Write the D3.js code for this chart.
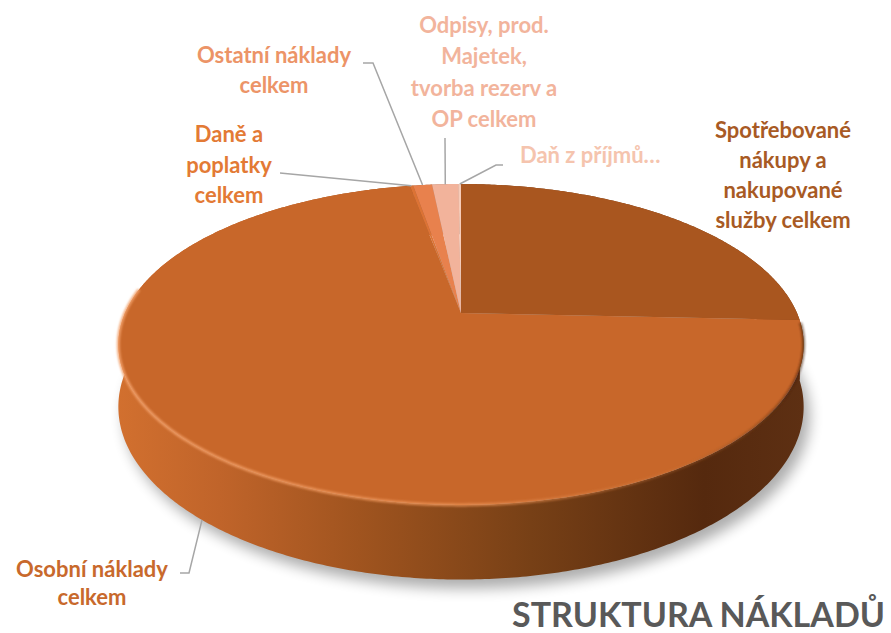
<!DOCTYPE html>
<html>
<head>
<meta charset="utf-8">
<script src="https://cdn.jsdelivr.net/npm/d3@7"></script>
<style>
  body { margin: 0; background: #fff; }
  svg { display: block; }
  text { font-family: Lato, "Open Sans", sans-serif; font-weight: 700; }
</style>
</head>
<body>
<div id="chart"></div>
<script>
// Slice data, in drawing order (clockwise from 12 o'clock)
const categories = [
  "Spotřebované nákupy a nakupované služby celkem",
  "Osobní náklady celkem",
  "Daně a poplatky celkem",
  "Ostatní náklady celkem",
  "Odpisy, prod. Majetek, tvorba rezerv a OP celkem",
  "Daň z příjmů…"
];
const values = [25.72, 71.36, 0.19, 1.08, 1.50, 0.14];
const sliceColors = ["#a9561f", "#c8672a", "#dc7334", "#e8814d", "#f2b39b", "#f6cbb8"];
const labelColors = ["#a85a24", "#c8692c", "#e37a35", "#ec9467", "#f2b49c", "#f5c4ae"];
const labelLines = [
  ["Spotřebované", "nákupy a", "nakupované", "služby celkem"],
  ["Osobní náklady", "celkem"],
  ["Daně a", "poplatky", "celkem"],
  ["Ostatní náklady", "celkem"],
  ["Odpisy, prod.", "Majetek,", "tvorba rezerv a", "OP celkem"],
  ["Daň z příjmů…"]
];
const title = "STRUKTURA NÁKLADŮ";

function chart() {
  const width = 891;
  const height = 633;

  // perspective pie geometry
  const cx = 461, cy = 313, R = 336, Ry = 154.3, k = 0.196, depth = 60;

  // map an angle (clockwise from the back) on the disc to the screen
  const proj = (phi, down) => {
    const u = Math.sin(phi), v = -Math.cos(phi), w = 1 - k * v;
    return [cx + R * u / w, cy + Ry * v / w + (down ? depth / w : 0)];
  };
  const arcPts = (a0, a1, down) => {
    const n = Math.max(2, Math.ceil((a1 - a0) / 0.01));
    return d3.range(n + 1).map(i => proj(a0 + (a1 - a0) * i / n, down));
  };
  const line = d3.line();

  const arcs = d3.pie().sort(null).value(d => d)(values);

  const svg = d3.select("#chart")
    .append("svg")
      .attr("viewBox", [0, 0, width, height])
      .attr("width", width)
      .attr("height", height);

  const defs = svg.append("defs");
  defs.append("filter").attr("id", "blur").attr("x", "-20%").attr("y", "-20%")
      .attr("width", "140%").attr("height", "140%")
    .append("feGaussianBlur").attr("stdDeviation", 7);
  defs.append("filter").attr("id", "soft")
    .append("feGaussianBlur").attr("stdDeviation", 1);

  const wallGrad = defs.append("linearGradient").attr("id", "wall")
      .attr("gradientUnits", "userSpaceOnUse")
      .attr("x1", 116).attr("x2", 808).attr("y1", 0).attr("y2", 0);
  [[0, "#d2702f"], [0.15, "#c0642a"], [0.35, "#a0541f"], [0.6, "#774016"],
   [0.85, "#55290e"], [1, "#5e3013"]]
    .forEach(([o, c]) => wallGrad.append("stop").attr("offset", o).attr("stop-color", c));

  const rimGrad = defs.append("linearGradient").attr("id", "rim")
      .attr("gradientUnits", "userSpaceOnUse")
      .attr("x1", 116).attr("x2", 808).attr("y1", 0).attr("y2", 0);
  [[0, "#f2a06a", 0.9], [0.5, "#ec9356", 0.8], [0.8, "#d07a40", 0.3], [1, "#3a1a08", 0.6]]
    .forEach(([o, c, a]) => rimGrad.append("stop").attr("offset", o)
      .attr("stop-color", c).attr("stop-opacity", a));

  // soft shadow under the disc
  svg.append("path")
      .attr("d", line(arcPts(0, 2 * Math.PI, true).map(([x, y]) => [x + 6, y + 9])) + "Z")
      .attr("fill", "#000")
      .attr("opacity", 0.32)
      .attr("filter", "url(#blur)");

  // side walls
  svg.append("g")
    .selectAll("path")
    .data(arcs)
    .join("path")
      .attr("d", d => line(arcPts(d.startAngle, d.endAngle, false)
        .concat(arcPts(d.startAngle, d.endAngle, true).reverse())) + "Z")
      .attr("fill", (d, i) => i === 1 ? "url(#wall)" : d3.color(sliceColors[i]).darker(1));

  // top faces
  svg.append("g")
    .selectAll("path")
    .data(arcs)
    .join("path")
      .attr("d", d => line([[cx, cy]].concat(arcPts(d.startAngle, d.endAngle, false))) + "Z")
      .attr("fill", (d, i) => sliceColors[i]);

  // light bevel along the front rim
  svg.append("path")
      .attr("d", line(arcPts(Math.PI * 0.52, Math.PI * 1.55, false)))
      .attr("fill", "none")
      .attr("stroke", "url(#rim)")
      .attr("stroke-width", 3)
      .attr("filter", "url(#soft)");

  // labels
  const labelPos = [
    {x: 783, y: 138, anchor: "middle", lh: 30},
    {x: 92, y: 577, anchor: "middle", lh: 28},
    {x: 229, y: 142, anchor: "middle", lh: 30.5},
    {x: 274, y: 63, anchor: "middle", lh: 30},
    {x: 484, y: 33, anchor: "middle", lh: 31.3},
    {x: 520, y: 163, anchor: "start", lh: 30}
  ];
  // leader line start points (next to the label)
  const leaderStart = [
    null,
    [[180, 573], [189, 573]],
    [[280, 173]],
    [[363, 63], [373, 63]],
    [[445, 138]],
    [[503, 165], [496, 165]]
  ];

  const leaders = svg.append("g")
      .attr("fill", "none")
      .attr("stroke", "#a6a6a6")
      .attr("stroke-width", 1.5);
  arcs.forEach((d, i) => {
    if (!leaderStart[i]) return;
    const mid = (d.startAngle + d.endAngle) / 2;
    const front = Math.cos(mid) < 0;
    const end = proj(mid, front);
    leaders.append("path").attr("d", line(leaderStart[i].concat([end])));
  });

  const labels = svg.append("g").attr("font-size", 22);
  labelLines.forEach((lines, i) => {
    const p = labelPos[i];
    const t = labels.append("text")
        .attr("fill", labelColors[i])
        .attr("text-anchor", p.anchor);
    lines.forEach((s, j) => t.append("tspan")
        .attr("x", p.x).attr("y", p.y + j * p.lh).text(s));
  });

  svg.append("text")
      .attr("x", 885)
      .attr("y", 627)
      .attr("text-anchor", "end")
      .attr("font-size", 34)
      .attr("textLength", 373)
      .attr("lengthAdjust", "spacingAndGlyphs")
      .attr("fill", "#595959")
      .text(title);
}

chart();
</script>
</body>
</html>
